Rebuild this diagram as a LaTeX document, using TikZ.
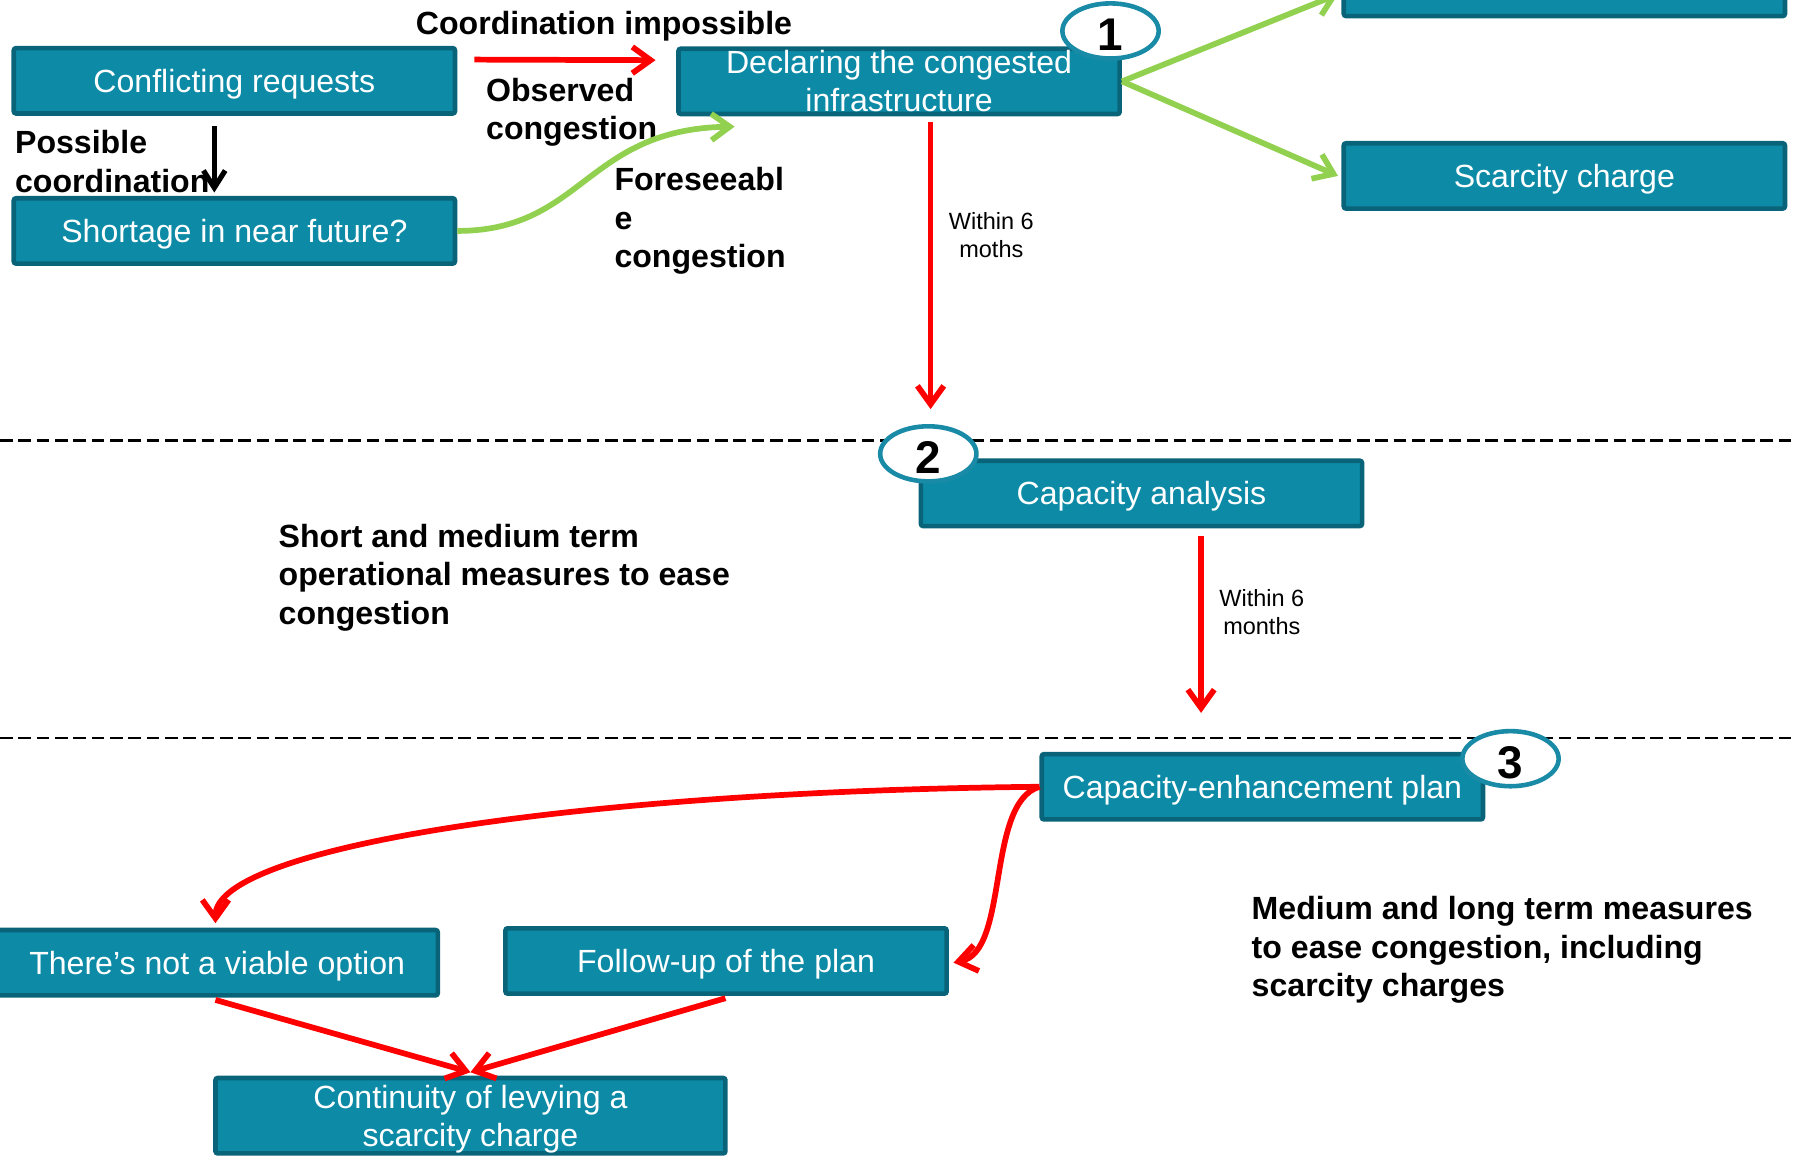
\documentclass[tikz,border=0pt]{standalone}
\usepackage{fontspec}
\setmainfont{Liberation Sans}
\usetikzlibrary{arrows.meta,shapes.geometric,calc}
\definecolor{boxfill}{HTML}{0C8AA6}
\definecolor{boxborder}{HTML}{0A6479}
\definecolor{circborder}{HTML}{1A8BA6}
\definecolor{arrred}{HTML}{FF0000}
\definecolor{arrgreen}{HTML}{92D050}
\begin{document}
\begin{tikzpicture}[x=1pt,y=-1pt,
  box/.style={draw=boxborder, fill=boxfill, line width=4pt, rounded corners=2pt,
    minimum width=385pt, minimum height=57pt, inner sep=0pt, text=white,
    font=\fontsize{28}{33}\selectfont, align=center},
  onebox/.style={box, text height=20pt, text depth=0pt},
  numcirc/.style={ellipse, draw=circborder, fill=white, line width=4pt,
    minimum width=84pt, minimum height=45pt, inner sep=0pt,
    text height=34pt, text depth=0pt,
    font=\bfseries\fontsize{40}{40}\selectfont},
  lbl/.style={font=\bfseries\fontsize{28}{33.6}\selectfont, align=left, inner sep=0pt, anchor=west},
  small/.style={font=\fontsize{20.5}{25}\selectfont, align=center, inner sep=0pt},
  sep/.style={draw=black, line width=2.5pt, dash pattern=on 11pt off 5pt},
  redarr/.style={draw=arrred, line width=5pt, -{Straight Barb[length=16pt,width=23pt]}},
  greenarr/.style={draw=arrgreen, line width=5pt, -{Straight Barb[length=16pt,width=23pt]}},
  blackarr/.style={draw=black, line width=4.5pt, -{Straight Barb[length=15pt,width=19pt]}}
]
\useasboundingbox (0,0) rectangle (1568,1012);
\clip (0,0) rectangle (1568,1012);

% separators
\draw[sep] (0,384) -- (1568,384);
\draw[sep] (0,644) -- (1568,644);

% boxes
\node[onebox] (conf) at (204.5,70.5) {Conflicting requests};
\node[onebox] (short) at (204.5,201.5) {Shortage in near future?};
\node[box] (decl) at (784.5,71) {Declaring the congested\\infrastructure};
\node[box] (topr) at (1365,-14.5) {};
\node[onebox] (scar) at (1365,153.5) {Scarcity charge};
\node[onebox] (capa) at (996,430.5) {Capacity analysis};
\node[onebox] (cep) at (1101.5,686.5) {Capacity-enhancement plan};
\node[onebox] (none) at (189.5,840) {There’s not a viable option};
\node[onebox] (follow) at (633.5,838.5) {Follow-up of the plan};
\node[box, minimum width=445pt, minimum height=65pt] (cont) at (410.5,973.5) {\rule{0pt}{27pt}Continuity of levying a\\scarcity charge};

% number ellipses
\node[numcirc] (c1) at (969,27) {1};
\node[numcirc] (c2) at (810,396) {2};
\node[numcirc] (c3) at (1318,662) {3};

% labels
\node[lbl, anchor=center] (tcoord) at (527,23) {Coordination impossible};
\node[lbl] (tobs) at (424,98) {Observed\\congestion};
\node[lbl] (tposs) at (13,141) {Possible\\coordination};
\node[lbl] (tfore) at (536,193) {Foreseeabl\\e\\congestion};
\node[lbl] (tshort) at (243,504) {Short and medium term\\operational measures to ease\\congestion};
\node[lbl] (tmed) at (1092,829) {Medium and long term measures\\to ease congestion, including\\scarcity charges};
\node[small] (w1) at (865,205) {Within 6\\moths};
\node[small] (w2) at (1101,534) {Within 6\\months};

% connectors
\draw[blackarr] ($(conf.south)+(-17.5,9)$) -- ($(short.north)+(-17.5,-3)$);
\draw[redarr] ($(conf.east)+(15,-18.5)$) -- ($(decl.west)+(-18,-18.5)$);
\draw[greenarr] (short.east) .. controls +(110,0) and +(-130,2) .. ($(decl.south)+(-143.5,9)$);
\draw[greenarr] (decl.east) -- ($(topr.west)+(-3,9.5)$);
\draw[greenarr] (decl.east) -- ($(scar.west)+(-3,0)$);
\draw[redarr] ($(decl.south)+(27.5,5)$) -- ($(decl.south |- c2.north)+(27.5,-13)$);
\draw[redarr] ($(capa.south)+(52,7)$) -- ($(cep.north)+(-53.5,-34)$);
\draw[redarr] (cep.west) .. controls +(-407,4) and +(0,-66) .. ($(none.north)+(-1.5,-4)$);
\draw[redarr] (cep.west) .. controls +(-47,14) and +(49,-10) .. ($(follow.east)+(4,1.5)$);
\draw[redarr] ($(none.south)+(-1.5,2)$) -- ($(cont.north)+(0,-3)$);
\draw[redarr] ($(follow.south)+(-0.5,2)$) -- ($(cont.north)+(0,-3)$);
\end{tikzpicture}
\end{document}
